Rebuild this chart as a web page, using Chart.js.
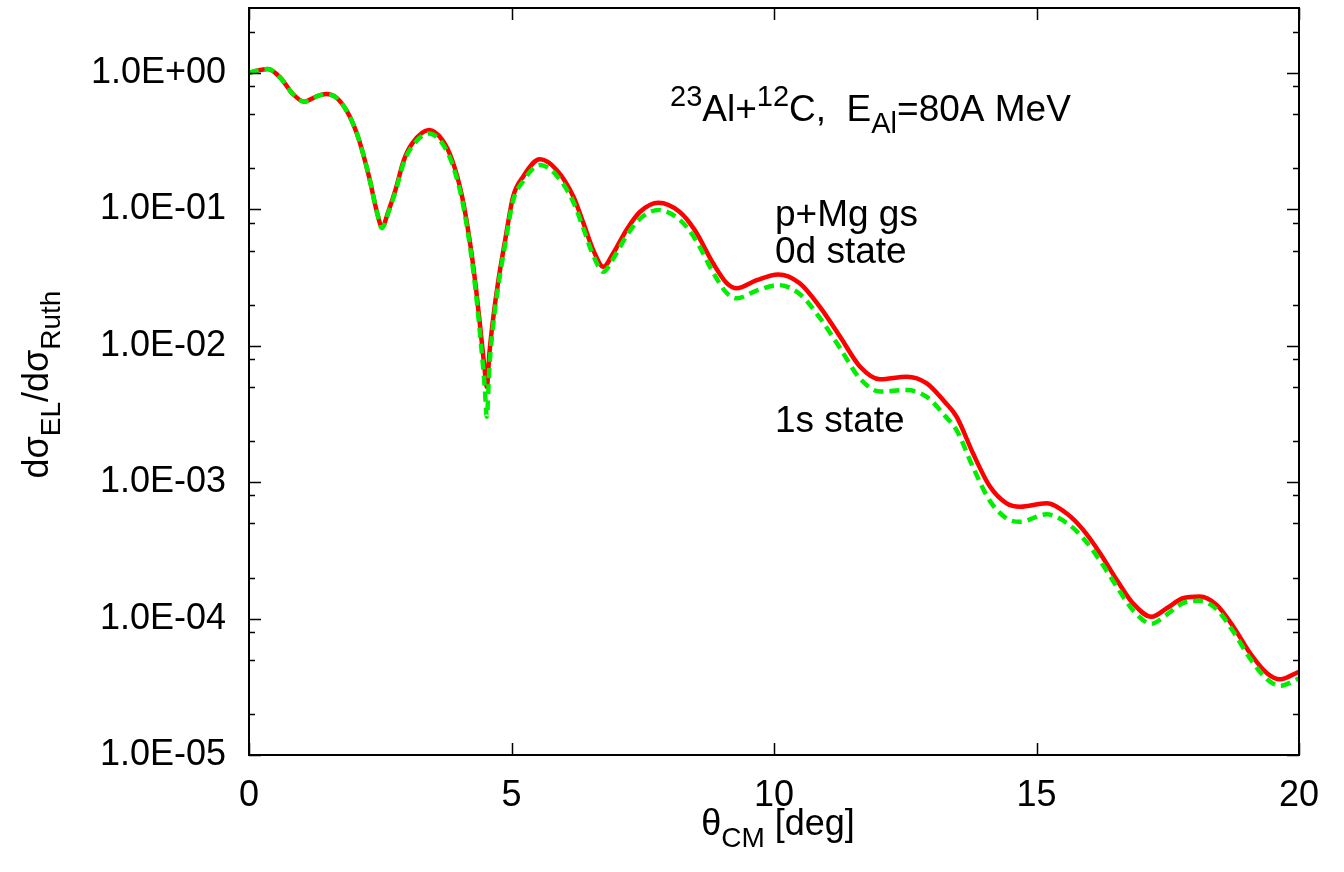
<!DOCTYPE html>
<html>
<head>
<meta charset="utf-8">
<script src="https://cdn.jsdelivr.net/npm/chart.js@4.4.0/dist/chart.umd.min.js"></script>
<style>
  body { margin: 0; background: #fff; }
  canvas { display: block; }
</style>
</head>
<body>
<canvas id="grafico" width="1344" height="872"></canvas>
<script>
// angles (deg) and elastic cross sections (ratio to Rutherford)
const theta = [0, 0.15, 0.36, 0.6, 0.825, 1.05, 1.27, 1.47, 1.68, 1.905, 2.095, 2.286, 2.444, 2.53, 2.667, 2.79, 2.95, 3.11, 3.43, 3.68,
  3.87, 4.06, 4.22, 4.33, 4.42, 4.49, 4.53, 4.58, 4.65, 4.75, 4.88, 5.03, 5.22, 5.54, 5.86, 6.18, 6.37, 6.56, 6.75, 6.94,
  7.19, 7.45, 7.8, 8.2, 8.49, 8.84, 9.1, 9.29, 9.67, 10.08, 10.49, 10.87, 11.26, 11.64, 12.02, 12.53, 12.91, 13.25, 13.48, 13.79,
  14.11, 14.43, 14.69, 15.19, 15.57, 15.89, 16.21, 16.53, 16.84, 17.19, 17.48, 17.79, 18.11, 18.43, 18.75, 19.07, 19.39, 19.64, 20.0];

// p+Mg gs, 0d state (red solid)
const sigma0d = [1.00, 1.042, 1.072, 0.923, 0.710, 0.617, 0.670, 0.701, 0.652, 0.492, 0.324, 0.174, 0.0933, 0.0746, 0.100, 0.139, 0.230, 0.305, 0.382, 0.324,
  0.230, 0.124, 0.0537, 0.0251, 0.0120, 0.00661, 0.0050, 0.00891, 0.0158, 0.0302, 0.0597, 0.124, 0.174, 0.233, 0.195, 0.124, 0.0794, 0.0501, 0.0380, 0.0479,
  0.0708, 0.0962, 0.112, 0.0962, 0.0706, 0.0403, 0.0288, 0.0264, 0.0303, 0.0334, 0.0288, 0.0194, 0.01167, 0.00703, 0.00568, 0.00594, 0.00531, 0.00389, 0.00302, 0.00163,
  0.000933, 0.000700, 0.000661, 0.000700, 0.000592, 0.000447, 0.000302, 0.000192, 0.000129, 0.000103, 0.000119, 0.000141, 0.000145, 0.000126, 0.0000873, 0.0000557, 0.0000398, 0.0000359, 0.0000408];

// 1s state (green dashed)
const sigma1s = [1.00, 1.042, 1.072, 0.923, 0.710, 0.617, 0.670, 0.701, 0.652, 0.492, 0.324, 0.174, 0.0933, 0.0729, 0.0977, 0.135, 0.222, 0.292, 0.361, 0.306,
  0.217, 0.117, 0.0501, 0.0229, 0.0102, 0.00502, 0.00302, 0.00707, 0.0141, 0.0279, 0.0557, 0.116, 0.161, 0.212, 0.177, 0.113, 0.0724, 0.0457, 0.0349, 0.0437,
  0.0639, 0.0857, 0.0991, 0.0842, 0.0615, 0.0345, 0.0244, 0.0223, 0.0254, 0.0279, 0.0240, 0.0161, 0.00959, 0.00574, 0.00462, 0.00474, 0.00422, 0.00309, 0.00240, 0.00129,
  0.000732, 0.000543, 0.000513, 0.000582, 0.000504, 0.000389, 0.000266, 0.000171, 0.000115, 0.0000918, 0.000107, 0.000130, 0.000135, 0.000117, 0.0000801, 0.0000508, 0.0000359, 0.0000322, 0.0000364];

const xTicks = [0, 5, 10, 15, 20];
const yMajor = [1e-5, 1e-4, 1e-3, 1e-2, 1e-1, 1];
const yMinorFactors = [2, 5, 8];

const FONT = '"Liberation Sans", Arial, Helvetica, sans-serif';
const TXT = 36;

function fmtExp(v) {
  const e = Math.round(Math.log10(v));
  return '1.0E' + (e < 0 ? '-' : '+') + String(Math.abs(e)).padStart(2, '0');
}

// text with superscripts (1) and subscripts (-1)
function drawRich(ctx, x, y, parts, size, align) {
  const fontFor = k => (k ? Math.round(size * 0.78) : size) + 'px ' + FONT;
  let total = 0;
  parts.forEach(([t, k]) => { ctx.font = fontFor(k); total += ctx.measureText(t).width; });
  let cx = align === 'center' ? x - total / 2 : x;
  ctx.textAlign = 'left';
  ctx.textBaseline = 'alphabetic';
  parts.forEach(([t, k]) => {
    ctx.font = fontFor(k);
    const dy = k === 1 ? -size * 0.40 : k === -1 ? size * 0.32 : 0;
    ctx.fillText(t, cx, y + dy);
    cx += ctx.measureText(t).width;
  });
}

const marcoPlugin = {
  id: 'marco',
  afterDraw(chart) {
    const ctx = chart.ctx;
    const a = chart.chartArea;
    const xs = chart.scales.x, ys = chart.scales.y;
    ctx.save();
    ctx.strokeStyle = '#000';
    ctx.lineWidth = 2;
    ctx.strokeRect(a.left, a.top, a.right - a.left, a.bottom - a.top);
    ctx.beginPath();
    xTicks.forEach(v => {
      const px = Math.round(xs.getPixelForValue(v)) + 0.5;
      ctx.moveTo(px, a.bottom); ctx.lineTo(px, a.bottom - 12);
      ctx.moveTo(px, a.top); ctx.lineTo(px, a.top + 12);
    });
    yMajor.forEach(v => {
      const py = Math.round(ys.getPixelForValue(v)) + 0.5;
      ctx.moveTo(a.left, py); ctx.lineTo(a.left + 12, py);
      ctx.moveTo(a.right, py); ctx.lineTo(a.right - 12, py);
      yMinorFactors.forEach(f => {
        const m = v * f;
        if (m > ys.max) return;
        const pm = Math.round(ys.getPixelForValue(m)) + 0.5;
        ctx.moveTo(a.left, pm); ctx.lineTo(a.left + 6, pm);
        ctx.moveTo(a.right, pm); ctx.lineTo(a.right - 6, pm);
      });
    });
    ctx.lineWidth = 1.5;
    ctx.stroke();

    ctx.fillStyle = '#000';
    // annotations
    drawRich(ctx, 670, 121, [['23', 1], ['Al+', 0], ['12', 1], ['C,  E', 0], ['Al', -1], ['=80A MeV', 0]], 37);
    drawRich(ctx, 775, 226, [['p+Mg gs', 0]], 37);
    drawRich(ctx, 775, 263, [['0d state', 0]], 37);
    drawRich(ctx, 775, 432, [['1s state', 0]], 37);

    // axis titles
    drawRich(ctx, (a.left + a.right) / 2 + 4, 835, [['θ', 0], ['CM', -1], [' [deg]', 0]], TXT, 'center');
    ctx.translate(48, (a.top + a.bottom) / 2 + 3);
    ctx.rotate(-Math.PI / 2);
    drawRich(ctx, 0, 0, [['dσ', 0], ['EL', -1], ['/dσ', 0], ['Ruth', -1]], TXT, 'center');
    ctx.restore();
  }
};

const ctx = document.getElementById('grafico').getContext('2d');
const grafico = new Chart(ctx, {
  type: 'line',
  data: {
    datasets: [
      {
        label: '0d state',
        data: theta.map((t, i) => ({ x: t, y: sigma0d[i] })),
        borderColor: '#ff0000',
        borderWidth: 4.5,
        pointRadius: 0,
        fill: false,
        cubicInterpolationMode: 'monotone',
        order: 2
      },
      {
        label: '1s state',
        data: theta.map((t, i) => ({ x: t, y: sigma1s[i] })),
        borderColor: '#00ee00',
        borderWidth: 4.5,
        borderDash: [10, 6],
        pointRadius: 0,
        fill: false,
        cubicInterpolationMode: 'monotone',
        order: 1
      }
    ]
  },
  options: {
    responsive: false,
    animation: false,
    layout: { padding: { top: 8, right: 45, left: 0, bottom: 0 } },
    plugins: { legend: { display: false }, tooltip: { enabled: false } },
    scales: {
      x: {
        type: 'linear',
        min: 0,
        max: 20,
        grid: { display: false, drawTicks: false },
        border: { display: false },
        afterBuildTicks: s => { s.ticks = xTicks.map(v => ({ value: v })); },
        afterFit: s => { s.height = 117; s.paddingLeft = 0; s.paddingRight = 0; },
        ticks: { color: '#000', padding: 19, font: { family: FONT, size: TXT }, maxRotation: 0 }
      },
      y: {
        type: 'logarithmic',
        min: 1e-5,
        max: 3,
        grid: { display: false, drawTicks: false },
        border: { display: false },
        afterBuildTicks: s => { s.ticks = yMajor.map(v => ({ value: v })); },
        afterFit: s => { s.width = 249; s.paddingTop = 0; s.paddingBottom = 0; },
        ticks: { color: '#000', padding: 23, font: { family: FONT, size: TXT }, callback: v => fmtExp(v) }
      }
    }
  },
  plugins: [marcoPlugin]
});
</script>
</body>
</html>
